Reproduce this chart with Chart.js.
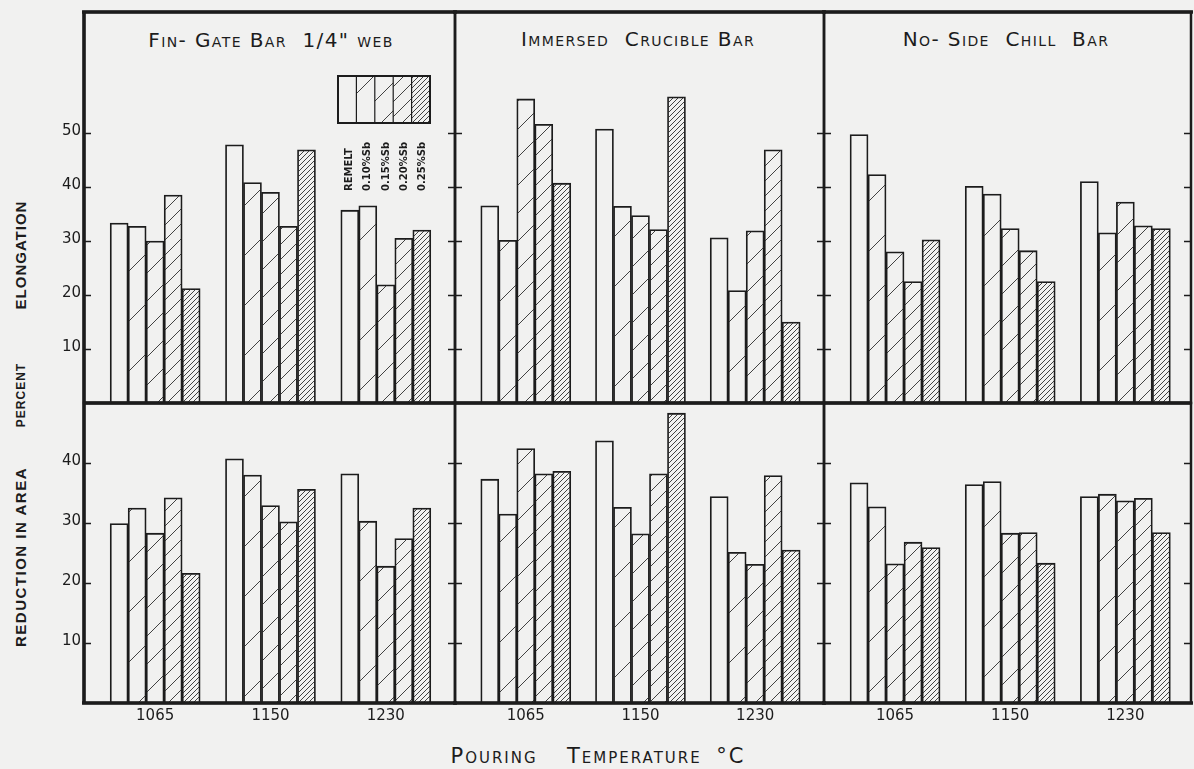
<!DOCTYPE html>
<html>
<head>
<meta charset="utf-8">
<script src="https://cdn.jsdelivr.net/npm/chart.js@4.4.0/dist/chart.umd.min.js"></script>
<style>
    body {
        margin: 0;
        width: 1194px;
        height: 769px;
        overflow: hidden;
        position: relative;
        background: #f1f1f0;
        color: #1c1c1c;
        font-family: "DejaVu Sans", sans-serif;
    }
    .panel { position: absolute; }
    .title {
        position: absolute;
        transform: translate(-50%, -50%);
        white-space: nowrap;
        font-variant: small-caps;
        font-size: 20px;
        letter-spacing: 1.4px;
    }
    .vlabel {
        position: absolute;
        transform: translate(-50%, -50%) rotate(-90deg);
        white-space: nowrap;
        font-family: "Liberation Sans", sans-serif;
        font-weight: bold;
        letter-spacing: 1px;
    }
</style>
</head>
<body>

<div class="title" style="left:271px; top:40px;">Fin- Gate Bar&nbsp; 1/4" web</div>
<div class="title" style="left:638px; top:39px;">Immersed&nbsp; Crucible Bar</div>
<div class="title" style="left:1006px; top:39px;">No- Side&nbsp; Chill&nbsp; Bar</div>

<div class="vlabel" style="left:20px; top:255px; font-size:15px;">ELONGATION</div>
<div class="vlabel" style="left:21px; top:395px; font-size:12px;">PERCENT</div>
<div class="vlabel" style="left:20px; top:557px; font-size:15px; letter-spacing:1.5px;">REDUCTION IN AREA</div>

<div class="title" style="left:598px; top:756px; font-size:21px; letter-spacing:2px; word-spacing:6px;">Pouring&nbsp; Temperature °C</div>

<script>
const temps = ['1065', '1150', '1230'];
const seriesLabels = ['REMELT', '0.10%Sb', '0.15%Sb', '0.20%Sb', '0.25%Sb'];
const hatchSpacing = [0, 50, 28, 15, 5];

const yTicksTop = [10, 20, 30, 40, 50];
const yTicksBottom = [10, 20, 30, 40];

// elongation, percent: one row per series, one value per pouring temperature
const finGateElong = [
    [33.3, 47.8, 35.7],
    [32.7, 40.8, 36.5],
    [30.0, 39.0, 21.9],
    [38.5, 32.7, 30.5],
    [21.2, 46.9, 32.0]
];
const immersedElong = [
    [36.5, 50.7, 30.6],
    [30.1, 36.4, 20.8],
    [56.3, 34.7, 31.9],
    [51.6, 32.1, 46.9],
    [40.7, 56.7, 15.0]
];
const noSideElong = [
    [49.7, 40.1, 41.0],
    [42.3, 38.7, 31.5],
    [28.0, 32.3, 37.2],
    [22.5, 28.2, 32.8],
    [30.2, 22.5, 32.3]
];

// reduction in area, percent
const finGateRA = [
    [29.9, 40.7, 38.2],
    [32.5, 38.0, 30.3],
    [28.3, 32.9, 22.8],
    [34.2, 30.2, 27.4],
    [21.6, 35.6, 32.5]
];
const immersedRA = [
    [37.3, 43.7, 34.4],
    [31.5, 32.6, 25.1],
    [42.4, 28.2, 23.1],
    [38.2, 38.2, 37.9],
    [38.6, 48.3, 25.5]
];
const noSideRA = [
    [36.7, 36.4, 34.4],
    [32.7, 36.9, 34.8],
    [23.2, 28.3, 33.7],
    [26.8, 28.4, 34.1],
    [25.9, 23.3, 28.4]
];

// frame layout (page pixels)
const colEdges = [84, 455, 824, 1191];
const rowEdges = [12, 403, 703];
const rowMax = [72.4, 50];
const colXMax = [2.6, 2.6, 2.57];
const pad = 12;

const ink = '#1c1c1c';

function makeHatch(s) {
    if (!s) return 'rgba(0,0,0,0)';
    const c = document.createElement('canvas');
    c.width = s;
    c.height = s;
    const g = c.getContext('2d');
    g.strokeStyle = '#2e2e2e';
    g.lineWidth = 0.9;
    g.beginPath();
    g.moveTo(0, s); g.lineTo(s, 0);
    g.moveTo(-1, 1); g.lineTo(1, -1);
    g.moveTo(s - 1, s + 1); g.lineTo(s + 1, s - 1);
    g.stroke();
    return g.createPattern(c, 'repeat');
}

const hatches = hatchSpacing.map(makeHatch);

const panelDeco = {
    id: 'panelDeco',
    afterDraw(chart, args, opts) {
        const { ctx, chartArea: a } = chart;
        const y = chart.scales.y;
        ctx.save();
        ctx.strokeStyle = ink;
        ctx.lineWidth = 1.5;
        y.ticks.forEach(t => {
            const py = Math.round(y.getPixelForValue(t.value)) + 0.5;
            ctx.beginPath();
            ctx.moveTo(a.left, py); ctx.lineTo(a.left + 7, py);
            ctx.moveTo(a.right, py); ctx.lineTo(a.right - 7, py);
            ctx.stroke();
        });
        ctx.lineWidth = 2.5;
        ctx.strokeRect(a.left, a.top, a.right - a.left, a.bottom - a.top);
        ctx.lineWidth = 3.5;
        ctx.beginPath();
        if (opts.outerTop) { ctx.moveTo(a.left - 2, a.top); ctx.lineTo(a.right + 2, a.top); }
        if (opts.outerLeft) { ctx.moveTo(a.left, a.top); ctx.lineTo(a.left, a.bottom); }
        if (opts.outerBottom) { ctx.moveTo(a.left - 2, a.bottom); ctx.lineTo(a.right + 2, a.bottom); }
        if (opts.midLine) { ctx.moveTo(a.left, a.bottom); ctx.lineTo(a.right, a.bottom); }
        ctx.stroke();
        ctx.restore();
    }
};

const hatchLegend = {
    id: 'hatchLegend',
    afterDatasetsDraw(chart, args, opts) {
        if (!opts.show) return;
        const { ctx, chartArea: a } = chart;
        const left = a.left + 254, top = a.top + 64, cw = 18.4, ch = 47;
        ctx.save();
        chart.data.datasets.forEach((ds, i) => {
            ctx.fillStyle = ds.backgroundColor;
            ctx.fillRect(left + i * cw, top, cw, ch);
        });
        ctx.strokeStyle = ink;
        ctx.lineWidth = 1.2;
        for (let i = 1; i < 5; i++) {
            ctx.beginPath();
            ctx.moveTo(left + i * cw, top);
            ctx.lineTo(left + i * cw, top + ch);
            ctx.stroke();
        }
        ctx.lineWidth = 2;
        ctx.strokeRect(left, top, cw * 5, ch);
        ctx.fillStyle = ink;
        ctx.font = 'bold 10px "DejaVu Sans"';
        ctx.textAlign = 'left';
        ctx.textBaseline = 'middle';
        chart.data.datasets.forEach((ds, i) => {
            ctx.save();
            ctx.translate(left + i * cw + cw / 2 + 2, top + ch + 68);
            ctx.rotate(-Math.PI / 2);
            ctx.fillText(ds.label, 0, 0);
            ctx.restore();
        });
        ctx.restore();
    }
};

function buildPanel(row, col, seriesData) {
    const padL = col === 0 ? 0 : 4;
    const cssLeft = col === 0 ? 0 : colEdges[col] - 4;
    const cssTop = rowEdges[row] - pad;
    const cssRight = Math.min(1194, colEdges[col + 1] + 3);
    const bottomExtra = row === 1 ? 36 : pad;
    const cssBottom = rowEdges[row + 1] + bottomExtra;

    const box = document.createElement('div');
    box.className = 'panel';
    box.style.left = cssLeft + 'px';
    box.style.top = cssTop + 'px';
    box.style.width = (cssRight - cssLeft) + 'px';
    box.style.height = (cssBottom - cssTop) + 'px';
    const canvas = document.createElement('canvas');
    box.appendChild(canvas);
    document.body.appendChild(box);

    const yTicks = row === 0 ? yTicksTop : yTicksBottom;

    return new Chart(canvas, {
        type: 'bar',
        data: {
            datasets: seriesData.map((vals, i) => ({
                label: seriesLabels[i],
                data: vals.map((v, k) => ({ x: k, y: v })),
                backgroundColor: hatches[i],
                borderColor: ink,
                borderWidth: 1.1,
                barThickness: 18
            }))
        },
        options: {
            responsive: true,
            maintainAspectRatio: false,
            animation: false,
            layout: {
                padding: { left: padL, top: pad, right: cssRight - colEdges[col + 1], bottom: row === 1 ? 0 : pad }
            },
            scales: {
                x: {
                    type: 'linear',
                    offset: false,
                    min: -0.617,
                    max: colXMax[col],
                    display: row === 1,
                    grid: { display: false, drawTicks: false, offset: false },
                    border: { display: false },
                    afterBuildTicks: scale => { scale.ticks = temps.map((t, k) => ({ value: k })); },
                    afterFit: scale => { if (row === 1) scale.height = 36; },
                    ticks: {
                        autoSkip: false,
                        maxRotation: 0,
                        padding: 4,
                        color: ink,
                        font: { family: 'DejaVu Sans', size: 15 },
                        callback: value => temps[value]
                    }
                },
                y: {
                    min: 0,
                    max: rowMax[row],
                    display: col === 0,
                    grid: { display: false, drawTicks: false },
                    border: { display: false },
                    afterBuildTicks: scale => { scale.ticks = yTicks.map(v => ({ value: v })); },
                    afterFit: scale => { if (col === 0) scale.width = colEdges[0]; },
                    ticks: {
                        autoSkip: false,
                        padding: 3,
                        labelOffset: -2,
                        color: ink,
                        font: { family: 'DejaVu Sans', size: 15 }
                    }
                }
            },
            plugins: {
                legend: { display: false },
                tooltip: { enabled: false },
                panelDeco: {
                    outerTop: row === 0,
                    outerLeft: col === 0,
                    outerBottom: row === 1,
                    midLine: row === 0
                },
                hatchLegend: { show: row === 0 && col === 0 }
            }
        },
        plugins: [panelDeco, hatchLegend]
    });
}

buildPanel(0, 0, finGateElong);
buildPanel(0, 1, immersedElong);
buildPanel(0, 2, noSideElong);
buildPanel(1, 0, finGateRA);
buildPanel(1, 1, immersedRA);
buildPanel(1, 2, noSideRA);
</script>
</body>
</html>
